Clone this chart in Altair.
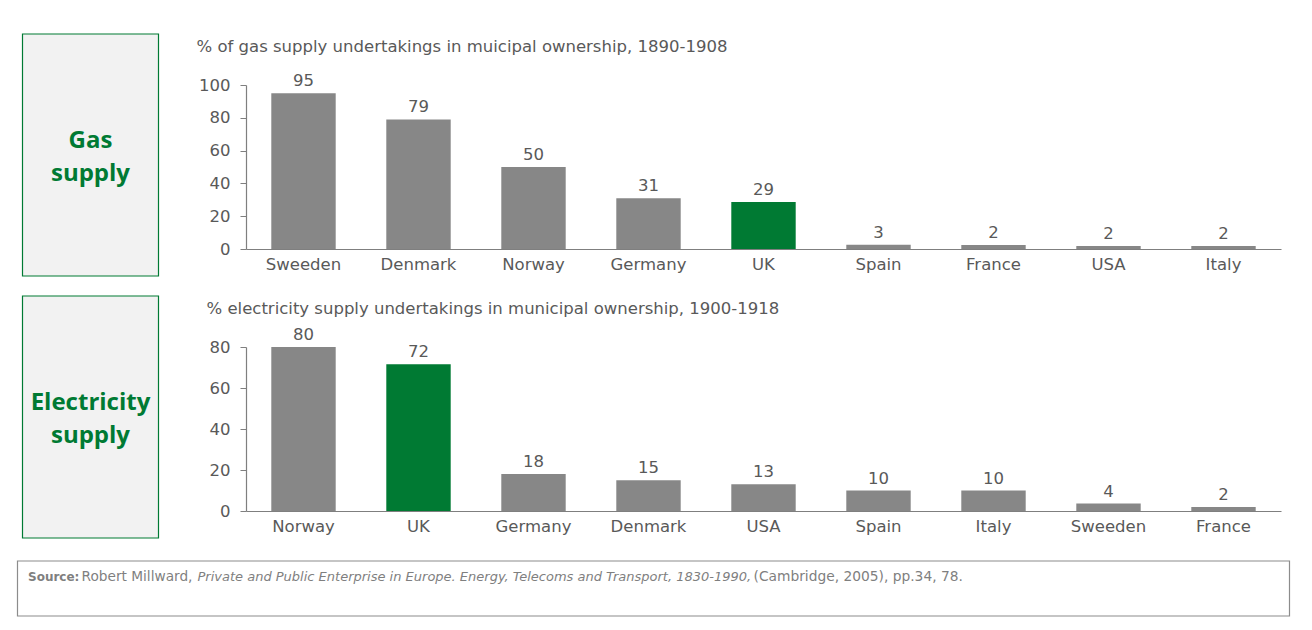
import altair as alt
import pandas as pd

gas_countries = ["Sweeden", "Denmark", "Norway", "Germany", "UK", "Spain", "France", "USA", "Italy"]
gas_values = [95, 79, 50, 31, 28.7, 2.6, 2.4, 1.8, 1.8]

elec_countries = ["Norway", "UK", "Germany", "Denmark", "USA", "Spain", "Italy", "Sweeden", "France"]
elec_values = [80, 71.6, 18, 15, 13, 10, 10, 3.6, 2]

gas_title = "% of gas supply undertakings in muicipal ownership, 1890-1908"
elec_title = "% electricity supply undertakings in municipal ownership, 1900-1918"
gas_label = ["Gas", "supply"]
elec_label = ["Electricity", "supply"]

FONT = "DejaVu Sans"
BOXFONT = "Open Sans"
GRAY_BAR = "#878787"
GREEN = "#007a33"
TXT = "#595959"
FS = 16.5
W, H = 1035, 164

dummy = pd.DataFrame({"d": [0]})


def panel(countries, values, ymax, title, label, title_dx, with_source=False):
    df = pd.DataFrame({"country": countries, "value": values})
    xenc = alt.X("country:N", sort=None, title=None,
                 scale=alt.Scale(paddingInner=0.44, paddingOuter=0.22),
                 axis=alt.Axis(labelAngle=0, ticks=False, labelFontSize=FS,
                               labelColor=TXT, labelFont=FONT, labelPadding=7,
                               domainColor="#7f7f7f", domainWidth=1.2))
    yaxis = alt.Axis(values=list(range(0, ymax + 1, 20)), grid=False,
                     labelOverlap=False, labelFlush=False,
                     tickSize=6, tickColor="#7f7f7f", domainColor="#7f7f7f",
                     domainWidth=1.2, labelFontSize=FS, labelColor=TXT,
                     labelFont=FONT, labelPadding=10)
    yenc = alt.Y("value:Q", title=None,
                 scale=alt.Scale(domain=[0, ymax], nice=False), axis=yaxis)
    bars = alt.Chart(df).mark_bar().encode(
        x=xenc, y=yenc,
        color=alt.condition(alt.datum.country == "UK", alt.value(GREEN), alt.value(GRAY_BAR)),
    )
    labels = alt.Chart(df).mark_text(baseline="bottom", dy=-4, fontSize=FS,
                                     font=FONT, color=TXT).encode(
        x=xenc,
        y=yenc,
        text=alt.Text("value:Q", format=".0f"),
    )
    box = alt.Chart(dummy).mark_rect(fill="#f2f2f2", stroke=GREEN, strokeWidth=1.2).encode(
        x=alt.value(-223.5), x2=alt.value(-87.5), y=alt.value(-51), y2=alt.value(191))
    boxtext = alt.Chart(dummy).mark_text(text=label, font=BOXFONT, fontSize=24,
                                         fontWeight="bold", color=GREEN,
                                         lineHeight=33, baseline="middle",
                                         align="center").encode(
        x=alt.value(-155.5), y=alt.value(56))
    ttl = alt.Chart(dummy).mark_text(text=title, font=FONT, fontSize=FS, color=TXT,
                                     align="left", baseline="middle").encode(
        x=alt.value(title_dx), y=alt.value(-38))
    layers = [box, boxtext, ttl, bars, labels]
    if with_source:
        sbox = alt.Chart(dummy).mark_rect(fill="white", stroke="#8c8c8c", strokeWidth=1.2).encode(
            x=alt.value(-228.5), x2=alt.value(1043.5), y=alt.value(214), y2=alt.value(269))
        layers.append(sbox)
        pieces = [
            ("Source:", -218, "bold", "normal", 12),
            ("Robert Millward,", -164.5, "normal", "normal", 13.7),
            ("Private and Public Enterprise in Europe. Energy, Telecoms and Transport, 1830-1990,", -48.5, "normal", "italic", 13),
            ("(Cambridge, 2005), pp.34, 78.", 507.5, "normal", "normal", 13.8),
        ]
        for txt, px, fw, fs, sz in pieces:
            layers.append(alt.Chart(dummy).mark_text(
                text=txt, font=FONT, fontSize=sz, color="#7f7f7f", fontWeight=fw,
                fontStyle=fs, align="left", baseline="middle").encode(
                x=alt.value(px), y=alt.value(230)))
    return alt.layer(*layers).properties(width=W, height=H)


gas = panel(gas_countries, gas_values, 100, gas_title, gas_label, -49.5)
elec = panel(elec_countries, elec_values, 80, elec_title, elec_label, -39.5, with_source=True)

chart = alt.vconcat(gas, elec, spacing=98, bounds="flush").properties(
    padding={"left": 8, "top": 25, "right": 5, "bottom": 5}
).configure_view(stroke=None).configure_concat(spacing=98)

chart.save("out.html", embed_options={"renderer": "svg", "actions": False})
